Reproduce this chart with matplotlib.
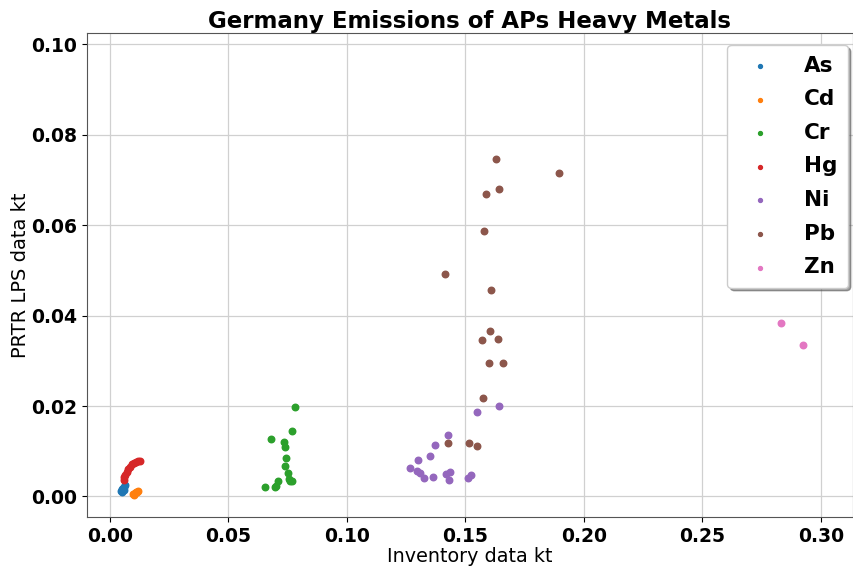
import matplotlib
matplotlib.use("Agg")
import matplotlib.pyplot as plt

metals = ["As", "Cd", "Cr", "Hg", "Ni", "Pb", "Zn"]
colors = ["#1f77b4", "#ff7f0e", "#2ca02c", "#d62728", "#9467bd", "#8c564b", "#e377c2"]

as_x = [0.0048, 0.0052, 0.0056, 0.0060, 0.0064, 0.0058, 0.0050]
as_y = [0.0013, 0.0016, 0.0019, 0.0022, 0.0026, 0.0014, 0.0011]

cd_x = [0.0098, 0.0102, 0.0106, 0.0110, 0.0114, 0.0118, 0.0100]
cd_y = [0.0005, 0.0006, 0.0008, 0.0009, 0.0011, 0.0013, 0.0003]

cr_x = [0.0781, 0.0769, 0.0679, 0.0734, 0.0738, 0.0743, 0.0738, 0.0752,
        0.0755, 0.0767, 0.0759, 0.0708, 0.0699, 0.0695, 0.0654]
cr_y = [0.0199, 0.0144, 0.0127, 0.0120, 0.0110, 0.0085, 0.0068, 0.0051,
        0.0038, 0.0035, 0.0034, 0.0035, 0.0024, 0.0022, 0.0022]

hg_x = [0.0058, 0.0061, 0.0065, 0.0070, 0.0076, 0.0083, 0.0092, 0.0101,
        0.0110, 0.0118, 0.0126]
hg_y = [0.0036, 0.0042, 0.0048, 0.0054, 0.0060, 0.0066, 0.0071, 0.0074,
        0.0076, 0.0078, 0.0079]

ni_x = [0.1643, 0.1547, 0.1427, 0.1371, 0.1350, 0.1300, 0.1266, 0.1294,
        0.1308, 0.1325, 0.1364, 0.1418, 0.1435, 0.1432, 0.1512, 0.1523]
ni_y = [0.0201, 0.0188, 0.0136, 0.0113, 0.0089, 0.0081, 0.0063, 0.0057,
        0.0051, 0.0041, 0.0042, 0.0050, 0.0054, 0.0037, 0.0041, 0.0048]

pb_x = [0.1574, 0.1426, 0.1515, 0.1550, 0.1630, 0.1893, 0.1641, 0.1585,
        0.1578, 0.1414, 0.1608, 0.1603, 0.1571, 0.1637, 0.1598, 0.1658]
pb_y = [0.0217, 0.0118, 0.0118, 0.0112, 0.0747, 0.0715, 0.0681, 0.0670,
        0.0588, 0.0492, 0.0456, 0.0366, 0.0346, 0.0348, 0.0295, 0.0295]

zn_x = [0.2830, 0.2923]
zn_y = [0.0383, 0.0335]

series_x = [as_x, cd_x, cr_x, hg_x, ni_x, pb_x, zn_x]
series_y = [as_y, cd_y, cr_y, hg_y, ni_y, pb_y, zn_y]

fig = plt.figure(figsize=(8.54, 5.67), dpi=100)
ax = fig.add_axes([0.1015, 0.0877, 0.8973, 0.8546])

for name, c, xs, ys in zip(metals, colors, series_x, series_y):
    ax.scatter(xs, ys, s=22, color=c, label=name, zorder=3)

ax.set_xlim(-0.0098, 0.3135)
ax.set_ylim(-0.0046, 0.1026)
ax.set_xticks([0.00, 0.05, 0.10, 0.15, 0.20, 0.25, 0.30])
ax.set_yticks([0.00, 0.02, 0.04, 0.06, 0.08, 0.10])
ax.set_xticklabels(["0.00", "0.05", "0.10", "0.15", "0.20", "0.25", "0.30"])
ax.set_yticklabels(["0.00", "0.02", "0.04", "0.06", "0.08", "0.10"])
for lab in ax.get_xticklabels() + ax.get_yticklabels():
    lab.set_fontsize(13.5)
    lab.set_fontweight("bold")
ax.grid(True, color="#d0d0d0", linewidth=0.9, zorder=0)
ax.set_axisbelow(True)
for sp in ax.spines.values():
    sp.set_color("#555555")

ax.set_title("Germany Emissions of APs Heavy Metals", fontsize=16.5, fontweight="bold", pad=3)
ax.set_xlabel("Inventory data kt", fontsize=13.8, labelpad=1)
ax.set_ylabel("PRTR LPS data kt", fontsize=14, labelpad=1)

leg = ax.legend(loc="upper right", bbox_to_anchor=(0.9935, 0.9746),
                prop={"size": 15.5, "weight": "bold"},
                shadow=True, markerscale=0.6, labelspacing=0.63,
                handletextpad=1.05, borderpad=0.5,
                borderaxespad=0.0)

fig.savefig("out.png", dpi=100)
